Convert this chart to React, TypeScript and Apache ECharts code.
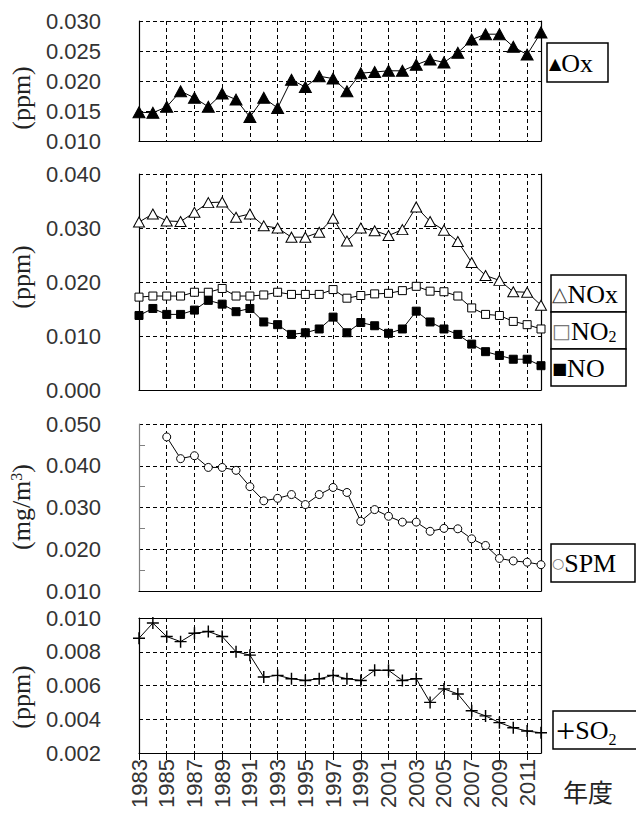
import React, { useEffect, useRef } from "react";
import * as echarts from "echarts";

const years = [
  "1983", "1984", "1985", "1986", "1987", "1988", "1989", "1990", "1991", "1992",
  "1993", "1994", "1995", "1996", "1997", "1998", "1999", "2000", "2001", "2002",
  "2003", "2004", "2005", "2006", "2007", "2008", "2009", "2010", "2011", "2012",
];

const ox = [
  0.0148, 0.0147, 0.0157, 0.0183, 0.0172, 0.0157, 0.0179, 0.0169, 0.0140, 0.0172,
  0.0155, 0.0202, 0.0190, 0.0208, 0.0204, 0.0183, 0.0213, 0.0215, 0.0217, 0.0217,
  0.0227, 0.0236, 0.0231, 0.0247, 0.0269, 0.0278, 0.0278, 0.0257, 0.0244, 0.0281,
];

const nox = [
  0.0311, 0.0326, 0.0313, 0.0312, 0.0329, 0.0347, 0.0348, 0.0320, 0.0326, 0.0304,
  0.0300, 0.0283, 0.0283, 0.0292, 0.0318, 0.0276, 0.0300, 0.0295, 0.0286, 0.0297,
  0.0339, 0.0312, 0.0296, 0.0275, 0.0236, 0.0212, 0.0203, 0.0182, 0.0181, 0.0157,
];

const no2 = [
  0.0172, 0.0174, 0.0174, 0.0174, 0.0181, 0.0181, 0.0188, 0.0174, 0.0174, 0.0176,
  0.0181, 0.0177, 0.0177, 0.0177, 0.0186, 0.0170, 0.0175, 0.0178, 0.0179, 0.0184,
  0.0192, 0.0183, 0.0182, 0.0174, 0.0152, 0.0140, 0.0138, 0.0127, 0.0121, 0.0113,
];

const no = [
  0.0138, 0.0151, 0.0140, 0.0140, 0.0148, 0.0166, 0.0159, 0.0145, 0.0151, 0.0126,
  0.0121, 0.0103, 0.0106, 0.0113, 0.0135, 0.0106, 0.0125, 0.0119, 0.0105, 0.0113,
  0.0146, 0.0126, 0.0113, 0.0103, 0.0085, 0.0071, 0.0064, 0.0057, 0.0057, 0.0045,
];

const spm = [
  null, null, 0.0469, 0.0417, 0.0424, 0.0396, 0.0396, 0.0389, 0.0350, 0.0316,
  0.0322, 0.0331, 0.0307, 0.0331, 0.0348, 0.0336, 0.0267, 0.0295, 0.0279, 0.0265,
  0.0265, 0.0243, 0.0250, 0.0249, 0.0225, 0.0209, 0.0178, 0.0172, 0.0169, 0.0163,
];

const so2 = [
  0.0088, 0.0097, 0.0089, 0.0086, 0.0091, 0.0092, 0.0089, 0.0080, 0.0078, 0.0065,
  0.0066, 0.0064, 0.0063, 0.0064, 0.0066, 0.0064, 0.0063, 0.0069, 0.0069, 0.0063,
  0.0064, 0.0050, 0.0058, 0.0055, 0.0045, 0.0042, 0.0038, 0.0035, 0.0033, 0.0032,
];

// y ranges per panel: [min, max, interval]
const yRanges = [
  [0.01, 0.03, 0.005],
  [0.0, 0.04, 0.01],
  [0.01, 0.05, 0.01],
  [0.002, 0.01, 0.002],
];

const panels = [
  { top: 21, height: 120 },
  { top: 174, height: 216 },
  { top: 424, height: 167 },
  { top: 618, height: 135 },
];

const LEFT = 139;
const RIGHT = 95;
const SANS = "'Liberation Sans', Arial, sans-serif";
const SERIF = "'Liberation Serif', 'Times New Roman', serif";
const SYM = "'DejaVu Sans', sans-serif";

const dash = [4, 3];

function App() {
  const ref = useRef<HTMLDivElement>(null);

  useEffect(() => {
    if (!ref.current) return;
    const chart = echarts.init(ref.current, undefined, { renderer: "svg" });

    const grid = panels.map((p) => ({
      left: LEFT,
      right: RIGHT,
      top: p.top,
      height: p.height,
      containLabel: false,
    }));

    const xAxis: any[] = panels.map((_, i) => ({
      type: "category",
      gridIndex: i,
      data: years,
      boundaryGap: false,
      axisLine: { show: true, lineStyle: { color: "#000", width: 1.2 } },
      axisTick:
        i === 3
          ? { show: true, interval: 1, length: 7, lineStyle: { color: "#000" } }
          : { show: false },
      axisLabel:
        i === 3
          ? {
              show: true,
              interval: 1,
              rotate: 90,
              margin: 6,
              fontFamily: SANS,
              fontSize: 22,
              color: "#333",
            }
          : { show: false },
      splitLine: {
        show: true,
        interval: (idx: number) => idx % 2 === 0 && idx !== 0,
        lineStyle: { color: "#000", type: dash, width: 1 },
      },
    }));
    // solid top border for the last panel
    xAxis.push({
      type: "category",
      gridIndex: 3,
      position: "top",
      data: years,
      boundaryGap: false,
      axisLine: { show: true, lineStyle: { color: "#000", width: 1.2 } },
      axisTick: { show: false },
      axisLabel: { show: false },
      splitLine: { show: false },
    });

    const yAxis: any[] = [];
    yRanges.forEach((r, i) => {
      const gray = i === 2;
      yAxis.push({
        type: "value",
        gridIndex: i,
        min: r[0],
        max: r[1],
        interval: r[2],
        axisLine: { show: true, lineStyle: { color: gray ? "#808080" : "#000", width: 1.2 } },
        axisTick: { show: false, inside: true },
        minorTick: gray
          ? { show: true, splitNumber: 2, length: 6, lineStyle: { color: "#808080" } }
          : { show: false },
        axisLabel: {
          show: true,
          margin: 38,
          fontFamily: SANS,
          fontSize: 22,
          lineHeight: 22,
          color: "#333",
          formatter: (v: number) => v.toFixed(3),
        },
        splitLine: { show: true, lineStyle: { color: "#000", type: dash, width: 1 } },
      });
      yAxis.push({
        type: "value",
        gridIndex: i,
        position: "right",
        min: r[0],
        max: r[1],
        interval: r[2],
        axisLine: { show: true, lineStyle: { color: "#000", width: 1.2 } },
        axisTick: { show: false },
        axisLabel: { show: false },
        splitLine: { show: false },
      });
    });

    const base = {
      type: "line",
      animation: false,
      lineStyle: { color: "#000", width: 1 },
      showSymbol: true,
      showAllSymbol: true,
      z: 5,
    };

    const plus = "path://M0,4.4 L10,4.4 L10,5.6 L0,5.6 Z M4.4,0 L5.6,0 L5.6,10 L4.4,10 Z";

    const series: any[] = [
      {
        ...base,
        name: "Ox",
        xAxisIndex: 0,
        yAxisIndex: 0,
        data: ox,
        symbol: "triangle",
        symbolSize: [12, 11],
        itemStyle: { color: "#000", borderColor: "#000" },
      },
      {
        ...base,
        name: "NOx",
        xAxisIndex: 1,
        yAxisIndex: 2,
        data: nox,
        symbol: "triangle",
        symbolSize: [11, 10],
        itemStyle: { color: "#fff", borderColor: "#000", borderWidth: 1 },
      },
      {
        ...base,
        name: "NO2",
        xAxisIndex: 1,
        yAxisIndex: 2,
        data: no2,
        symbol: "rect",
        symbolSize: 8,
        itemStyle: { color: "#fff", borderColor: "#000", borderWidth: 1 },
      },
      {
        ...base,
        name: "NO",
        xAxisIndex: 1,
        yAxisIndex: 2,
        data: no,
        symbol: "rect",
        symbolSize: 8,
        itemStyle: { color: "#000", borderColor: "#000" },
      },
      {
        ...base,
        name: "SPM",
        xAxisIndex: 2,
        yAxisIndex: 4,
        data: spm,
        symbol: "circle",
        symbolSize: 8,
        itemStyle: { color: "#fff", borderColor: "#000", borderWidth: 1 },
      },
      {
        ...base,
        name: "SO2",
        xAxisIndex: 3,
        yAxisIndex: 6,
        data: so2,
        symbol: plus,
        symbolSize: 12,
        itemStyle: { color: "#000" },
      },
    ];

    const boxStyle = { fill: "#fff", stroke: "#000", lineWidth: 1.5 };
    const rich = {
      sym: { fontFamily: SYM, fontSize: 16, fill: "#000", color: "#000" },
      osym: { fontFamily: SYM, fontSize: 20, fill: "#444", color: "#444" },
      gsym: { fontFamily: SYM, fontSize: 20, fill: "#777", color: "#777" },
      csym: { fontFamily: SYM, fontSize: 14, fill: "#777", color: "#777" },
      plus: { fontFamily: SERIF, fontSize: 34, fill: "#000", color: "#000" },
      sub: { fontFamily: SERIF, fontSize: 16, fill: "#000", color: "#000", verticalAlign: "bottom" },
      sup: { fontFamily: SERIF, fontSize: 16, fill: "#222", color: "#222", verticalAlign: "top" },
    };
    const legendText = (x: number, y: number, text: string) => ({
      type: "text",
      x,
      y,
      z: 20,
      style: {
        text,
        fontFamily: SERIF,
        fontSize: 26,
        fill: "#000",
        align: "left",
        verticalAlign: "middle",
        rich,
      },
    });
    const axisName = (x: number, y: number, text: string) => ({
      type: "text",
      x,
      y,
      rotation: Math.PI / 2,
      z: 20,
      style: {
        text,
        fontFamily: SERIF,
        fontSize: 26,
        fill: "#222",
        align: "center",
        verticalAlign: "middle",
        rich,
      },
    });

    const graphic: any[] = [
      // Ox legend
      { type: "rect", z: 19, shape: { x: 547, y: 43, width: 61, height: 39 }, style: boxStyle },
      legendText(549, 63, "{sym|▲}Ox"),
      // NOx / NO2 / NO legend
      { type: "rect", z: 19, shape: { x: 551, y: 275, width: 75, height: 37 }, style: boxStyle },
      { type: "rect", z: 19, shape: { x: 551, y: 312, width: 75, height: 37 }, style: boxStyle },
      { type: "rect", z: 19, shape: { x: 551, y: 349, width: 75, height: 37 }, style: boxStyle },
      legendText(552, 294, "{osym|△}NOx"),
      legendText(552, 331, "{gsym|□}NO{sub|2}"),
      legendText(552, 368, "{sym|■}NO"),
      // SPM legend
      { type: "rect", z: 19, shape: { x: 551, y: 544, width: 84, height: 38 }, style: boxStyle },
      legendText(552, 563, "{csym|○}SPM"),
      // SO2 legend
      { type: "rect", z: 19, shape: { x: 553, y: 711, width: 90, height: 38 }, style: boxStyle },
      legendText(556, 730, "{plus|+}SO{sub|2}"),
      // axis names
      axisName(21, 98, "(ppm)"),
      axisName(21, 277, "(ppm)"),
      axisName(21, 507, "(mg/m{sup|3})"),
      axisName(21, 697, "(ppm)"),
      {
        type: "text",
        x: 588,
        y: 791,
        z: 20,
        style: {
          text: "年度",
          fontFamily: "'Noto Sans CJK JP', sans-serif",
          fontSize: 25,
          fill: "#222",
          align: "center",
          verticalAlign: "middle",
        },
      },
    ];

    chart.setOption({
      animation: false,
      backgroundColor: "#fff",
      grid,
      xAxis,
      yAxis,
      series,
      graphic,
    });

    return () => chart.dispose();
  }, []);

  return (
    <div
      ref={ref}
      style={{ position: "absolute", left: 0, top: 0, width: 636, height: 814 }}
    />
  );
}

export default App;
